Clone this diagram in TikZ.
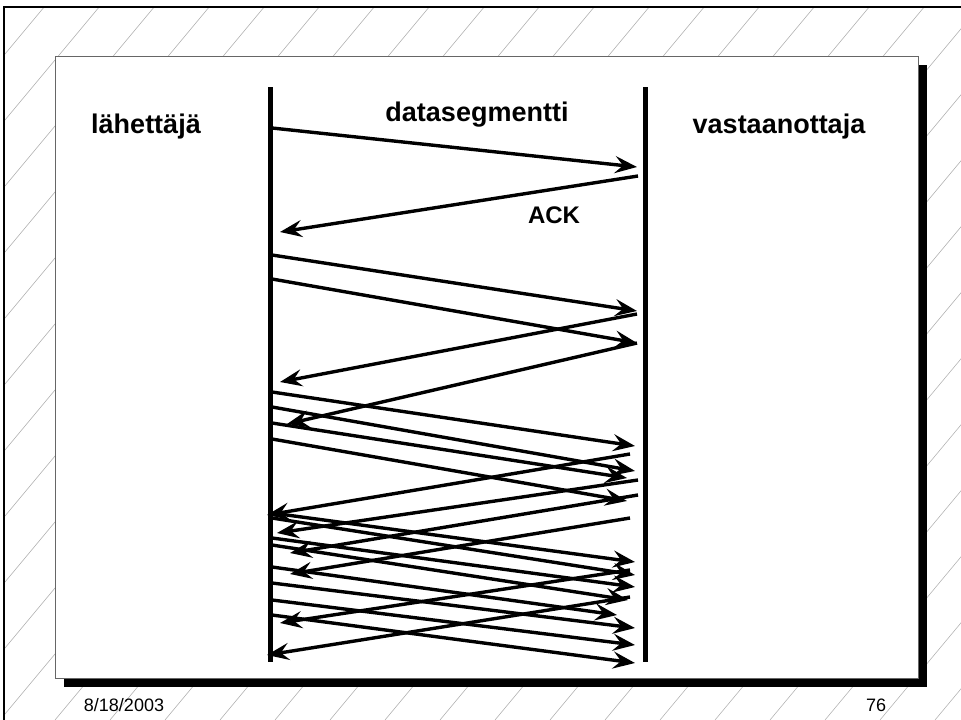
\documentclass[tikz,border=0pt]{standalone}
\usepackage{fontspec}
\setmainfont{Liberation Sans}
\usetikzlibrary{arrows.meta}

\begin{document}
\begin{tikzpicture}[x=1pt,y=-1pt,
    msg/.style={line width=3.4pt,-{Stealth[length=22pt,width=17pt,inset=8pt]}},
    lifeline/.style={line width=5pt},
    lbl/.style={font=\fontsize{27}{30}\selectfont\bfseries,inner sep=0pt},
    foot/.style={font=\fontsize{18}{20}\selectfont,inner sep=0pt}]
  \useasboundingbox (0,0) rectangle (961,720);
  % hatched slide background
  \begin{scope}
    \clip (4,7) rectangle (961,720);
    \foreach \x in {-660,-605,...,961}
      \draw[gray!60,line width=0.6pt] (\x,720) -- ++(600,-720);
  \end{scope}
  \draw[line width=2pt] (4,720) -- (4,7) -- (961,7);
  % panel and its shadow
  \fill (64,65) rectangle (927,687);
  \draw[fill=white,line width=1pt,draw=black!60] (55,56) rectangle (918,678);
  %\draw[very thin,lightgray] (55,56) grid[step=50] (918,678);
  \draw[lifeline] (270,87) coordinate (snd) -- (270,662);
  \draw[lifeline] (645,87) coordinate (rcv) -- (645,662);
  \node[lbl] (sender) at (146,127) {lähettäjä};
  \node[lbl] (segment) at (477,115) {datasegmentti};
  \node[lbl] (receiver) at (779,127) {vastaanottaja};
  \node[lbl,font=\fontsize{24}{26}\selectfont\bfseries] (ack) at (554,215) {ACK};
  % data segments
  \foreach \ly/\rx/\ry [count=\i] in {128/637/167,255/637/311,279/637/343,
      392/635/446,407/635/471,423/627/478,439/627/501,
      513/635/562,518/635/575,538/635/587,545/628/600,
      567/617/615,583/635/628,600/635/645,615/635/663}{
    \coordinate (d\i s) at (272,\ly);
    \coordinate (d\i e) at (\rx,\ry);
    \draw[msg] (d\i s) -- (d\i e);
  }
  % acknowledgements
  \foreach \rx/\ry/\lx/\ly [count=\i] in {638/176/280/232,637/314/280/382,
      637/343/287/424,630/454/267/515,638/480/277/533,638/495/290/553,
      630/518/290/574,630/570/280/623,630/597/267/655}{
    \coordinate (a\i s) at (\rx,\ry);
    \coordinate (a\i e) at (\lx,\ly);
    \draw[msg] (a\i s) -- (a\i e);
  }
  \node[foot] (date) at (124,705) {8/18/2003};
  \node[foot] (page) at (876,705) {76};
\end{tikzpicture}
\end{document}
